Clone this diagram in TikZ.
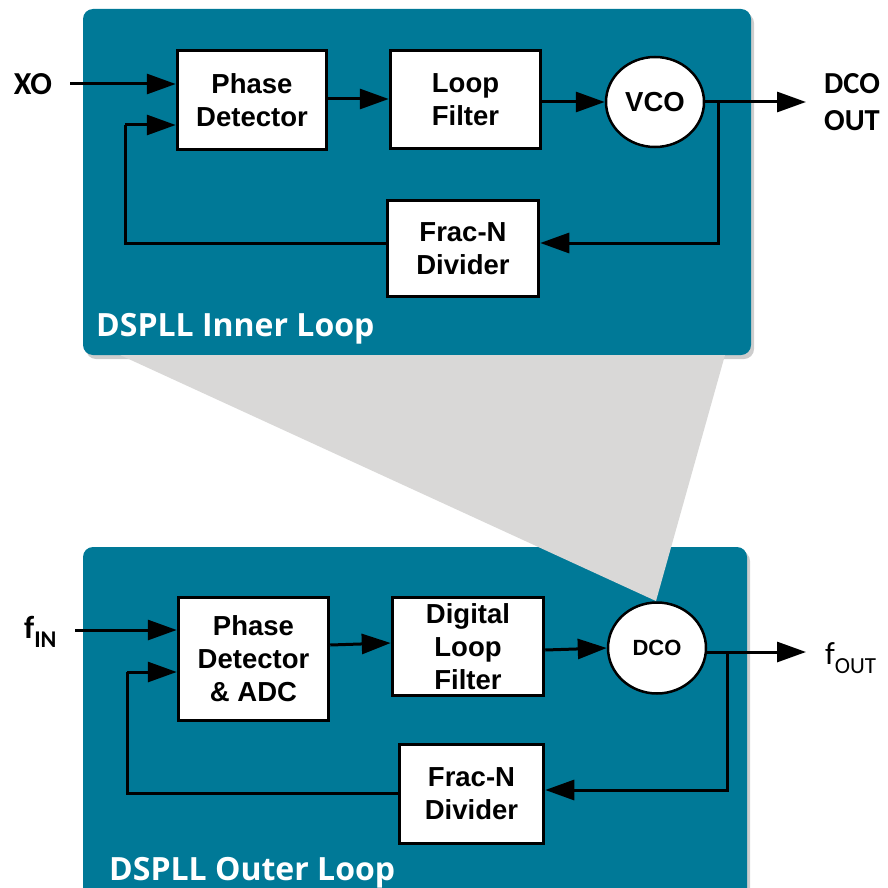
\documentclass[tikz,border=0pt]{standalone}
\usepackage{fontspec}
\setmainfont{Liberation Sans}
\newfontfamily\calfont{Carlito}
\newfontfamily\osfont{Open Sans}
\usetikzlibrary{arrows.meta,shapes.geometric}
\definecolor{panelc}{RGB}{0,121,151}
\definecolor{wedgec}{RGB}{217,216,215}
\definecolor{shadowc}{RGB}{205,205,205}
\tikzset{
  blk/.style={draw=black, line width=3.5pt, fill=white, rectangle, align=center, inner sep=0pt,
    font=\fontsize{27.5}{33}\selectfont\bfseries},
  osc/.style={draw=black, line width=2.5pt, fill=white, ellipse, inner sep=0pt,
    font=\fontsize{27.5}{33}\selectfont\bfseries},
  arr/.style={line width=3pt, -{Triangle[length=29pt,width=20pt]}},
  ln/.style={line width=3pt},
  extlbl/.style={font=\calfont\fontsize{32}{37}\selectfont\bfseries, inner sep=0pt},
  looplbl/.style={font=\osfont\fontsize{32}{37}\selectfont\bfseries, text=white, inner sep=0pt}
}
\begin{document}
\begin{tikzpicture}[x=1pt,y=-1pt]
\useasboundingbox (0,0) rectangle (887,888);
\clip (0,0) rectangle (887,888);
% panels
\fill[shadowc, rounded corners=10pt] (86,13) rectangle (754,359);
\fill[panelc, rounded corners=10pt] (83,9) rectangle (751,355);
\fill[shadowc, rounded corners=10pt] (86,551) rectangle (750,910);
\fill[panelc, rounded corners=10pt] (83,547) rectangle (747,910);
% zoom wedge
\fill[wedgec] (120,355) -- (725,355) -- (656,601) -- cycle;

% ---------- inner loop ----------
\node[blk, minimum width=149pt, minimum height=99pt] (pd1) at (252,100) {Phase\\Detector};
\node[blk, minimum width=150pt, minimum height=98pt] (lf1) at (465.5,99.5) {Loop\\Filter};
\node[osc, minimum width=98pt, minimum height=90pt] (vco) at (655,102) {VCO};
\node[blk, minimum width=151pt, minimum height=96pt] (fn1) at (463,248.5) {Frac-N\\Divider};

\node[extlbl] (xo) at (33,84) {XO};
\node[extlbl, font=\calfont\fontsize{30.5}{37}\selectfont\bfseries, align=left, anchor=west] (dcoout) at (824,102) {DCO\\OUT};
\node[looplbl, anchor=base west] (innerlbl) at (96,336) {DSPLL Inner Loop};

\coordinate (xs) at (70,84);
\coordinate (fb1) at (125,243);
\coordinate (fbi1) at (125,125);
\coordinate (br1) at (718,102);
\coordinate (brd1) at (718,243);
\coordinate (out1) at (806,102);

\draw[arr] (xs) -- (xs -| pd1.west);
\draw[arr] (pd1.east |- 0,99) -- (lf1.west |- 0,99);
\draw[arr] (lf1.east |- vco) -- (vco.west);
\draw[arr] (vco.east) -- (out1);
\draw[arr] (br1) -- (brd1) -- (brd1 -| fn1.east);
\draw[ln] (fb1 -| fn1.west) -- (fb1) -- (fbi1);
\draw[arr] (fbi1) -- (fbi1 -| pd1.west);

% ---------- outer loop ----------
\node[blk, minimum width=150pt, minimum height=123pt] (pd2) at (253.5,659) {Phase\\Detector\\\& ADC};
\node[blk, minimum width=151pt, minimum height=98pt] (dlf) at (468,646.5) {Digital\\Loop\\Filter};
\node[osc, minimum width=98pt, minimum height=91pt, font=\fontsize{22}{26}\selectfont\bfseries] (dco) at (657,648) {DCO};
\node[blk, minimum width=144pt, minimum height=99pt] (fn2) at (471.5,794) {Frac-N\\Divider};

\node[extlbl, anchor=base west] (fin) at (24,638) {f\raisebox{-9pt}{\fontsize{24}{26}\selectfont IN}};
\node[extlbl, anchor=base west, font=\calfont\fontsize{32}{37}\selectfont] (fout) at (825,664) {f\raisebox{-9pt}{\fontsize{23}{26}\selectfont OUT}};
\node[looplbl, anchor=base west] (outerlbl) at (109,880) {DSPLL Outer Loop};

\coordinate (xs2) at (75,630);
\coordinate (fb2) at (127,793);
\coordinate (fbi2) at (127,672);
\coordinate (br2) at (727,652);
\coordinate (brd2) at (727,790);
\coordinate (out2) at (806,652);

\draw[arr] (xs2) -- (xs2 -| pd2.west);
\draw[arr] (pd2.east |- 0,645) -- (dlf.west |- 0,643);
\draw[arr] (dlf.east |- 0,650) -- (dco.west);
\draw[arr] (dco.east |- br2) -- (out2);
\draw[arr] (br2) -- (brd2) -- (brd2 -| fn2.east);
\draw[ln] (fb2 -| fn2.west) -- (fb2) -- (fbi2);
\draw[arr] (fbi2) -- (fbi2 -| pd2.west);
\end{tikzpicture}
\end{document}
